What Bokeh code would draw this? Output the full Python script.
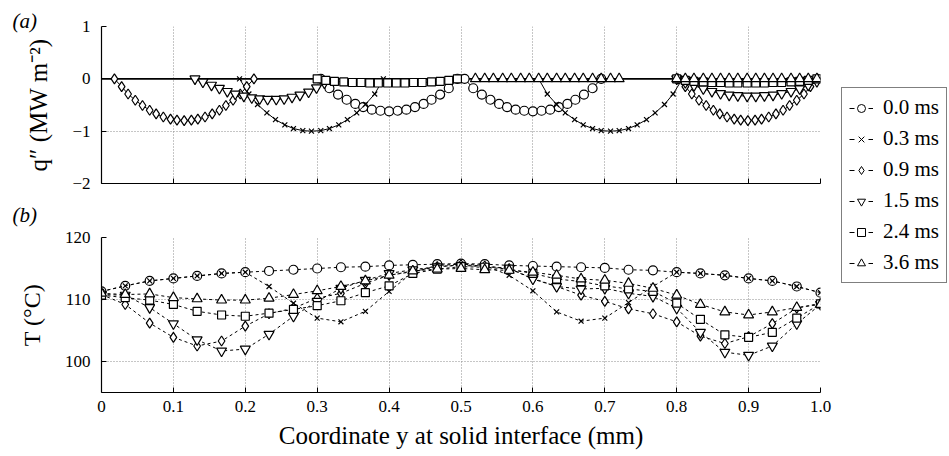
import math
from bokeh.plotting import figure
from bokeh.models import (Range1d, FixedTicker, Legend, LegendItem,
                          PrintfTickFormatter, Span)
from bokeh.layouts import row, column
from bokeh.embed import file_html
from bokeh.resources import INLINE

FONT = "Liberation Serif"

# ---------------- tick values ----------------
x_ticks = [0, 0.1, 0.2, 0.3, 0.4, 0.5, 0.6, 0.7, 0.8, 0.9, 1.0]
qa_ticks = [-2, -1, 0, 1]
tb_ticks = [100, 110, 120]

# ---------------- panel (b): interface temperature ----------------
y_pos = [0, 0.033, 0.067, 0.1, 0.133, 0.167, 0.2, 0.233, 0.267, 0.3, 0.333,
         0.367, 0.4, 0.433, 0.467, 0.5, 0.533, 0.567, 0.6, 0.633, 0.667, 0.7,
         0.733, 0.767, 0.8, 0.833, 0.867, 0.9, 0.933, 0.967, 1.0]
T_00 = [111.3, 112.2, 113.0, 113.4, 113.8, 114.2, 114.4, 114.6, 114.8, 115.0, 115.2,
        115.3, 115.5, 115.6, 115.7, 115.8, 115.7, 115.5, 115.4, 115.3, 115.2, 115.1,
        114.8, 114.7, 114.4, 114.2, 113.9, 113.4, 113.0, 112.1, 111.1]
T_03 = [111.3, 112.2, 113.0, 113.4, 113.8, 114.2, 114.4, 112.1, 109.4, 107.0, 106.4,
        108.1, 111.3, 114.4, 115.5, 115.7, 115.5, 113.9, 111.4, 108.0, 106.5, 107.0,
        109.5, 112.1, 114.4, 114.2, 113.9, 113.4, 113.0, 112.1, 111.1]
T_09 = [110.8, 109.2, 106.2, 103.9, 102.5, 103.3, 105.7, 107.7, 108.6, 110.2, 111.0,
        112.6, 113.9, 114.5, 115.3, 115.6, 115.4, 115.0, 113.4, 112.1, 110.7, 109.7,
        108.5, 107.7, 106.4, 104.1, 102.9, 104.0, 106.1, 108.6, 109.4]
T_15 = [110.8, 110.7, 108.7, 106.1, 103.5, 101.7, 102.0, 104.4, 107.3, 109.7, 111.8,
        113.1, 114.2, 114.8, 115.3, 115.5, 115.3, 115.0, 113.3, 112.1, 111.7, 111.8,
        111.0, 110.5, 108.6, 104.7, 101.5, 101.0, 102.5, 106.1, 109.2]
T_24 = [110.7, 110.3, 109.9, 109.2, 108.1, 107.5, 107.3, 107.8, 108.4, 109.0, 109.8,
        111.1, 112.2, 114.2, 114.9, 115.3, 115.2, 114.9, 114.2, 113.3, 112.9, 112.2,
        111.7, 111.3, 109.4, 106.8, 104.3, 103.9, 104.7, 107.0, 109.3]
T_36 = [111.0, 110.8, 110.9, 110.3, 110.1, 109.9, 109.9, 110.2, 110.8, 111.4, 112.1,
        113.0, 113.9, 114.6, 114.9, 115.0, 114.8, 114.7, 114.4, 113.9, 113.3, 113.1,
        112.6, 111.8, 110.7, 109.2, 108.0, 107.5, 108.0, 108.7, 109.2]

# ---------------- panel (a): heat flux arcs ----------------
q00_x1 = [0.305, 0.317, 0.329, 0.341, 0.353, 0.364, 0.376, 0.388, 0.400, 0.412, 0.424,
          0.436, 0.448, 0.459, 0.471, 0.483, 0.495]
q00_x2 = [0.505, 0.517, 0.529, 0.541, 0.553, 0.564, 0.576, 0.588, 0.600, 0.612, 0.624,
          0.636, 0.648, 0.659, 0.671, 0.683, 0.695]
q00_v = [0, -0.18, -0.30, -0.40, -0.48, -0.54, -0.59, -0.61, -0.62, -0.61, -0.59,
         -0.54, -0.48, -0.40, -0.30, -0.18, 0]

q03_x1 = [0.192, 0.205, 0.217, 0.230, 0.242, 0.255, 0.267, 0.280, 0.292, 0.305, 0.317,
          0.330, 0.342, 0.355, 0.367, 0.380, 0.392]
q03_x2 = [0.608, 0.620, 0.633, 0.645, 0.658, 0.670, 0.683, 0.695, 0.708, 0.720, 0.733,
          0.745, 0.758, 0.770, 0.783, 0.795, 0.808]
q03_v = [0, -0.29, -0.49, -0.65, -0.78, -0.88, -0.95, -0.99, -1.0, -0.99, -0.95,
         -0.88, -0.78, -0.65, -0.49, -0.29, 0]

q09_x1 = [0.018, 0.028, 0.037, 0.047, 0.057, 0.067, 0.076, 0.086, 0.096, 0.105, 0.115,
          0.125, 0.134, 0.144, 0.154, 0.164, 0.173, 0.183, 0.193, 0.202, 0.212]
q09_x2 = [0.802, 0.812, 0.821, 0.831, 0.841, 0.851, 0.860, 0.870, 0.880, 0.889, 0.899,
          0.909, 0.918, 0.928, 0.938, 0.948, 0.957, 0.967, 0.977, 0.986, 0.996]
q09_v = [0, -0.15, -0.29, -0.41, -0.51, -0.60, -0.67, -0.73, -0.77, -0.79, -0.80,
         -0.79, -0.77, -0.73, -0.67, -0.60, -0.51, -0.41, -0.29, -0.15, 0]

q_right_x = [0.800, 0.812, 0.824, 0.837, 0.849, 0.861, 0.873, 0.885, 0.898, 0.910,
             0.922, 0.934, 0.946, 0.959, 0.971, 0.983, 0.995]

q15_x1 = [0.130, 0.141, 0.153, 0.164, 0.175, 0.186, 0.198, 0.209, 0.220, 0.231, 0.243,
          0.254, 0.265, 0.276, 0.288, 0.299, 0.310]
q15_v1 = [0, -0.06, -0.12, -0.18, -0.24, -0.29, -0.33, -0.36, -0.38, -0.39, -0.39,
          -0.38, -0.35, -0.31, -0.25, -0.17, -0.08]
q15_v2 = [0, -0.07, -0.13, -0.19, -0.24, -0.28, -0.31, -0.32, -0.33, -0.33, -0.32,
          -0.31, -0.28, -0.24, -0.19, -0.12, -0.05]

q24_x1 = [0.300, 0.312, 0.324, 0.337, 0.349, 0.361, 0.373, 0.385, 0.398, 0.410, 0.422,
          0.434, 0.446, 0.459, 0.471, 0.483, 0.495]
q24_v = [0, -0.03, -0.05, -0.06, -0.07, -0.07, -0.08, -0.08, -0.08, -0.08, -0.08,
         -0.07, -0.07, -0.06, -0.05, -0.03, 0]

q36_x1 = [0.520, 0.533, 0.545, 0.558, 0.570, 0.583, 0.595, 0.608, 0.620, 0.633, 0.645,
          0.658, 0.670, 0.683, 0.695, 0.708, 0.720]
q36_v = [0, 0, 0, 0, 0, 0, 0, 0, 0, 0, 0, 0, 0, 0, 0, 0, 0]

labels = ["0.0 ms", "0.3 ms", "0.9 ms", "1.5 ms", "2.4 ms", "3.6 ms"]
markers = ["circle", "x", "diamond", "inverted_triangle", "square", "triangle"]
sizes = [9, 7, 10, 10, 8, 10]

NAN = float("nan")


def join(x1, v1, x2, v2):
    return x1 + [NAN] + x2, v1 + [NAN] + v2


flux = [
    join(q00_x1, q00_v, q00_x2, q00_v),
    join(q03_x1, q03_v, q03_x2, q03_v),
    join(q09_x1, q09_v, q09_x2, q09_v),
    join(q15_x1, q15_v1, q_right_x, q15_v2),
    join(q24_x1, q24_v, q_right_x, q24_v),
    join(q36_x1, q36_v, q_right_x, q36_v),
]
temps = [T_00, T_03, T_09, T_15, T_24, T_36]


def style_axes(p):
    p.outline_line_color = None
    p.axis.axis_line_color = "black"
    p.axis.axis_line_width = 1.2
    p.axis.major_tick_in = 5
    p.axis.major_tick_out = 0
    p.axis.major_tick_line_color = "black"
    p.axis.minor_tick_line_color = None
    p.axis.major_label_text_font = FONT
    p.axis.major_label_text_font_size = "17px"
    p.axis.major_label_text_color = "black"
    p.axis.axis_label_text_font = FONT
    p.axis.axis_label_text_font_style = "normal"
    p.axis.axis_label_text_color = "black"
    p.yaxis.major_label_standoff = 11
    p.yaxis.axis_label_standoff = 17
    p.yaxis.axis_label_text_font_size = "24px"
    p.xaxis.major_label_standoff = 8
    p.xaxis.ticker = FixedTicker(ticks=x_ticks)
    p.grid.grid_line_color = "#8c8c8c"
    p.grid.grid_line_dash = "1 2"
    p.grid.grid_line_width = 1
    p.background_fill_color = "white"
    p.border_fill_color = "white"
    p.title.text_font = FONT
    p.title.text_font_size = "21px"
    p.title.text_font_style = "italic"
    p.title.text_color = "black"
    p.title.align = "left"
    p.title.offset = -89
    p.title.vertical_align = "top"


# ---------------- top figure (a) ----------------
pa = figure(width=840, height=193, x_range=Range1d(0, 1), y_range=Range1d(-2, 1),
            title="(a)", toolbar_location=None, output_backend="svg",
            min_border_left=101, min_border_right=20,
            min_border_top=26, min_border_bottom=10)
style_axes(pa)
pa.title.standoff = -16
pa.yaxis.ticker = FixedTicker(ticks=qa_ticks)
pa.yaxis.major_label_overrides = {-2: "\u22122", -1: "\u22121", 0: "0", 1: "1"}
pa.yaxis.axis_label = "q\u2033 (MW m\u207b\u00b2)"
pa.yaxis.axis_label_text_font_size = "25px"
pa.xaxis.major_label_text_color = None
pa.xaxis.major_label_standoff = 0

pa.add_layout(Span(location=0, dimension="width", line_color="black",
                   line_width=1.6, level="underlay"))

for (xs, vs), mk, sz in zip(flux, markers, sizes):
    pa.line(xs, vs, line_color="black", line_width=1)
    pa.scatter(xs, vs, marker=mk, size=sz, fill_color="white",
               line_color="black", line_width=1.2)

# ---------------- bottom figure (b) ----------------
pb = figure(width=840, height=263, x_range=Range1d(0, 1), y_range=Range1d(95, 120),
            title="(b)", toolbar_location=None, output_backend="svg",
            min_border_left=101, min_border_right=20,
            min_border_top=42, min_border_bottom=64)
style_axes(pb)
pb.title.standoff = 18
pb.yaxis.ticker = FixedTicker(ticks=tb_ticks)
pb.yaxis.axis_label = "T (\u00b0C)"
pb.xaxis.formatter = PrintfTickFormatter(format="%.1f")
pb.xaxis.major_label_overrides = {0: "0"}
pb.xaxis.axis_label = "Coordinate y at solid interface (mm)"
pb.xaxis.axis_label_text_font_size = "25px"
pb.xaxis.axis_label_standoff = 7

for T, mk, sz in zip(temps, markers, sizes):
    pb.line(y_pos, T, line_color="black", line_width=1, line_dash="3 3")
    pb.scatter(y_pos, T, marker=mk, size=sz, fill_color="white",
               line_color="black", line_width=1.2)

# ---------------- legend figure ----------------
pl = figure(width=109, height=456, x_range=Range1d(10, 11), y_range=Range1d(10, 11),
            toolbar_location=None, output_backend="svg", min_border=0)
pl.axis.visible = False
pl.grid.visible = False
pl.outline_line_color = None

items = []
for T, mk, sz, lab in zip(temps, markers, sizes, labels):
    lr = pl.line(y_pos, T, line_color="black", line_width=1, line_dash="5 14")
    sr = pl.scatter(y_pos, T, marker=mk, size=sz, fill_color="white",
                    line_color="black", line_width=1)
    items.append(LegendItem(label=lab, renderers=[lr, sr]))

legend = Legend(items=items, location=(1, 173), orientation="vertical")
legend.label_text_font = FONT
legend.label_text_font_size = "21px"
legend.label_text_color = "black"
legend.glyph_width = 24
legend.glyph_height = 20
legend.label_height = 20
legend.label_standoff = 10
legend.spacing = 6
legend.padding = 7
legend.margin = 0
legend.border_line_color = "black"
legend.border_line_width = 1.5
legend.background_fill_color = "white"
legend.background_fill_alpha = 1
pl.add_layout(legend)

layout = row(column(pa, pb), pl)
open("out.html", "w").write(file_html(layout, INLINE))
